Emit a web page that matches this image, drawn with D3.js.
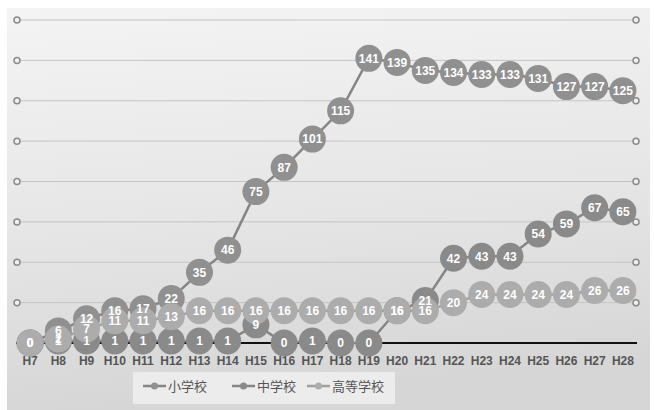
<!DOCTYPE html>
<html>
<head>
<meta charset="utf-8">
<script src="https://cdn.jsdelivr.net/npm/d3@7"></script>
<style>
  body { margin: 0; background: #fff; }
  svg { display: block; font-family: "Liberation Sans", "DejaVu Sans", sans-serif; }
</style>
</head>
<body>
<div id="chart"></div>
<script>
// 年度
const years = ['H7', 'H8', 'H9', 'H10', 'H11', 'H12', 'H13', 'H14', 'H15', 'H16', 'H17',
  'H18', 'H19', 'H20', 'H21', 'H22', 'H23', 'H24', 'H25', 'H26', 'H27', 'H28'];

const elementary = [0, 6, 12, 16, 17, 22, 35, 46, 75, 87, 101, 115, 141, 139, 135, 134, 133, 133, 131, 127, 127, 125];
const juniorHigh = [0, 1, 1, 1, 1, 1, 1, 1, 9, 0, 1, 0, 0, 16, 21, 42, 43, 43, 54, 59, 67, 65];
const highSchool = [0, 2, 7, 11, 11, 13, 16, 16, 16, 16, 16, 16, 16, 16, 16, 20, 24, 24, 24, 24, 26, 26];

const seriesNames = ['小学校', '中学校', '高等学校'];
const gridTicks = [20, 40, 60, 80, 100, 120, 140, 160];

const series = [
  { name: seriesNames[0], values: elementary, color: '#909090', line: '#858585' },
  { name: seriesNames[1], values: juniorHigh, color: '#8a8a8a', line: '#858585' },
  { name: seriesNames[2], values: highSchool, color: '#acacac', line: '#a0a0a0' }
];

const width = 654, height = 410;

const svg = d3.select('#chart').append('svg')
  .attr('width', width)
  .attr('height', height);

const defs = svg.append('defs');
const grad = defs.append('linearGradient')
  .attr('id', 'bg')
  .attr('x1', 0).attr('y1', 0).attr('x2', 0.15).attr('y2', 1);
grad.append('stop').attr('offset', '0%').attr('stop-color', '#f4f4f4');
grad.append('stop').attr('offset', '55%').attr('stop-color', '#e6e6e6');
grad.append('stop').attr('offset', '100%').attr('stop-color', '#d6d6d6');

svg.append('rect')
  .attr('x', 7).attr('y', 8)
  .attr('width', 643).attr('height', 402)
  .attr('fill', 'url(#bg)');

const x = d3.scaleBand()
  .domain(years)
  .range([16, 637]);

const y = d3.scaleLinear()
  .domain([0, 160])
  .range([343, 20]);

const cx = (d, i) => x(years[i]) + x.bandwidth() / 2;

// gridlines
const grid = svg.append('g');
grid.selectAll('line')
  .data(gridTicks)
  .join('line')
  .attr('x1', 17).attr('x2', 636)
  .attr('y1', d => y(d)).attr('y2', d => y(d))
  .attr('stroke', '#c4c4c4')
  .attr('stroke-width', 1);

[17, 636].forEach(px => {
  grid.append('g').selectAll('circle')
    .data(gridTicks)
    .join('circle')
    .attr('cx', px)
    .attr('cy', d => y(d))
    .attr('r', 3)
    .attr('fill', '#f0f0f0')
    .attr('stroke', '#8a8a8a')
    .attr('stroke-width', 1.5);
});

// x axis
const xAxis = svg.append('g')
  .attr('transform', 'translate(0,' + y(0) + ')')
  .call(d3.axisBottom(x).tickSize(0).tickPadding(13));
xAxis.select('.domain')
  .attr('d', 'M16,0H637')
  .attr('stroke', '#111')
  .attr('stroke-width', 2);
xAxis.selectAll('text')
  .attr('fill', '#555')
  .attr('font-size', 12)
  .attr('font-weight', 'bold');

// lines
const line = d3.line()
  .x(cx)
  .y(d => y(d));

series.forEach(s => {
  svg.append('path')
    .datum(s.values)
    .attr('fill', 'none')
    .attr('stroke', s.line)
    .attr('stroke-width', 2.5)
    .attr('d', line);
});

// bubbles
series.forEach(s => {
  svg.append('g').selectAll('circle')
    .data(s.values)
    .join('circle')
    .attr('cx', cx)
    .attr('cy', d => y(d))
    .attr('r', 13.5)
    .attr('fill', s.color);
});

// labels
series.forEach(s => {
  svg.append('g').selectAll('text')
    .data(s.values)
    .join('text')
    .attr('x', cx)
    .attr('y', d => y(d))
    .attr('dy', '0.36em')
    .attr('text-anchor', 'middle')
    .attr('fill', '#fff')
    .attr('font-size', 12)
    .attr('font-weight', 'bold')
    .text(d => d);
});

// legend
const legend = svg.append('g');
legend.append('rect')
  .attr('x', 133).attr('y', 372)
  .attr('width', 262).attr('height', 32)
  .attr('fill', '#ececec');

const legendX = [143, 232, 307];
series.forEach((s, i) => {
  const g = legend.append('g').attr('transform', 'translate(' + legendX[i] + ',386)');
  g.append('line')
    .attr('x1', 0).attr('x2', 23)
    .attr('stroke', s.line)
    .attr('stroke-width', 2.5);
  g.append('circle')
    .attr('cx', 11.5).attr('r', 3.5)
    .attr('fill', s.color);
  g.append('text')
    .attr('x', 25)
    .attr('dy', '0.35em')
    .attr('fill', '#555')
    .attr('font-size', 13)
    .attr('font-family', '"Noto Sans CJK JP", sans-serif')
    .text(s.name);
});
</script>
</body>
</html>
